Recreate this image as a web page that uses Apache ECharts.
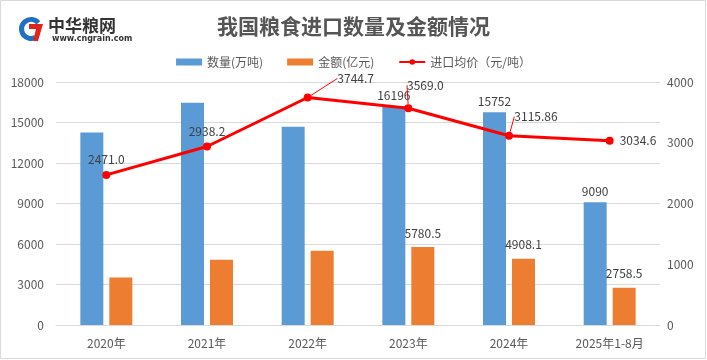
<!DOCTYPE html>
<html><head><meta charset="utf-8">
<script src="https://cdn.jsdelivr.net/npm/echarts@6/dist/echarts.min.js"></script>
<style>html,body{margin:0;padding:0;background:#fff}#c{width:707px;height:360px}</style>
</head><body><div id="c"></div>
<script>
var categories = ['2020年','2021年','2022年','2023年','2024年','2025年1-8月'];
var volume = [14262, 16454, 14687, 16196, 15752, 9090];
var amount = [3524, 4834, 5500, 5780.5, 4908.1, 2758.5];
var price = [2471.0, 2938.2, 3744.7, 3569.0, 3115.86, 3034.6];
var priceLabels = ['2471.0','2938.2','3744.7','3569.0','3115.86','3034.6'];
var volumeShowLabel = [false,false,false,true,true,true];
var amountShowLabel = [false,false,false,true,true,true];

var FONT = "'Microsoft YaHei','Noto Sans CJK SC',sans-serif";
var txt = '#404040';
var chart = echarts.init(document.getElementById('c'), null, {renderer:'canvas'});

var priceOffsets = [[15,2],[16,2],[0,0],[0,0],[0,0],[0,0]];
var priceMoves = {2:[48,-4],3:[17,-8],4:[27,-4]};
var lineData = price.map(function(v,i){
  var d = {value:v};
  if (i === 5) { d.label = {position:'right', distance:6}; d.labelLine = {show:false}; }
  else d.label = {position:'top', offset: priceOffsets[i]};
  if (!priceMoves[i]) d.labelLine = {show:false};
  return d;
});

chart.setOption({
  animation:false,
  textStyle:{fontFamily:FONT},
  title:{text:'我国粮食进口数量及金额情况', left:'center', top:11,
    textStyle:{fontSize:21, fontWeight:'bold', color:'#555', fontFamily:FONT}},
  legend:{top:51, left:'center', itemWidth:26, itemHeight:7, itemGap:24,
    textStyle:{fontSize:12, color:'#595959', fontFamily:FONT},
    data:[{name:'数量(万吨)', icon:'rect'},{name:'金额(亿元)', icon:'rect'},{name:'进口均价（元/吨）'}]},
  grid:{left:56, right:47, top:82, bottom:35},
  xAxis:{type:'category', data:categories,
    axisLine:{lineStyle:{color:'#d9d9d9'}}, axisTick:{show:false},
    axisLabel:{color:'#595959', fontSize:12, margin:12}},
  yAxis:[
    {type:'value', min:0, max:18000, interval:3000,
     axisLabel:{color:'#595959', fontSize:12, margin:12, formatter:function(v){return String(v);}},
     axisLine:{show:false}, axisTick:{show:false},
     splitLine:{lineStyle:{color:'#d9d9d9'}}},
    {type:'value', min:0, max:4000, interval:1000,
     axisLabel:{color:'#595959', fontSize:12, margin:7, formatter:function(v){return String(v);}},
     axisLine:{show:false}, axisTick:{show:false}, splitLine:{show:false}}
  ],
  series:[
    {name:'数量(万吨)', type:'bar', barWidth:23, barGap:'26%',
     itemStyle:{color:'#5b9bd5'},
     data: volume.map(function(v,i){return {value:v, label:{show:volumeShowLabel[i]}};}),
     label:{position:'top', color:txt, fontSize:12, distance:5}},
    {name:'金额(亿元)', type:'bar', barWidth:23,
     itemStyle:{color:'#ed7d31'},
     data: amount.map(function(v,i){return {value:v, label:{show:amountShowLabel[i]}};}),
     label:{position:'top', color:txt, fontSize:12, distance:8,
       formatter:function(p){return Number(p.value).toFixed(1);}}},
    {name:'进口均价（元/吨）', type:'line', yAxisIndex:1,
     symbol:'circle', symbolSize:8,
     lineStyle:{color:'#ff0000', width:3},
     itemStyle:{color:'#ff0000'},
     label:{show:true, color:txt, fontSize:12,
       formatter:function(p){return priceLabels[p.dataIndex];}},
     labelLine:{show:true, lineStyle:{color:'#ff0000', width:1}},
     labelLayout:function(p){
       var m = priceMoves[p.dataIndex];
       if (!m) return {};
       return {dx:m[0], dy:m[1]};
     },
     data: lineData, z:5}
  ],
  graphic:[
    {type:'rect', shape:{x:0.5,y:0.5,width:705,height:358}, style:{fill:'none', stroke:'#d9d9d9', lineWidth:1}, silent:true},
    {type:'sector', shape:{cx:31, cy:29, r:12, r0:7, startAngle:-Math.PI*0.22, endAngle:-Math.PI*1.65, clockwise:false}, style:{fill:'#1f6fc5'}},
    {type:'polygon', shape:{points:[[29,24],[43,24],[38,41],[33,41],[36,29],[29,29]]}, style:{fill:'#e0241b'}},
    {type:'text', left:48, top:17, style:{text:'中华粮网', fontSize:17, fontWeight:'bold', fill:'#333', fontFamily:FONT}},
    {type:'text', left:52, top:35, style:{text:'www.cngrain.com', fontSize:8, fontWeight:'bold', fill:'#333', fontFamily:"'DejaVu Sans',sans-serif"}}
  ]
});
</script></body></html>
